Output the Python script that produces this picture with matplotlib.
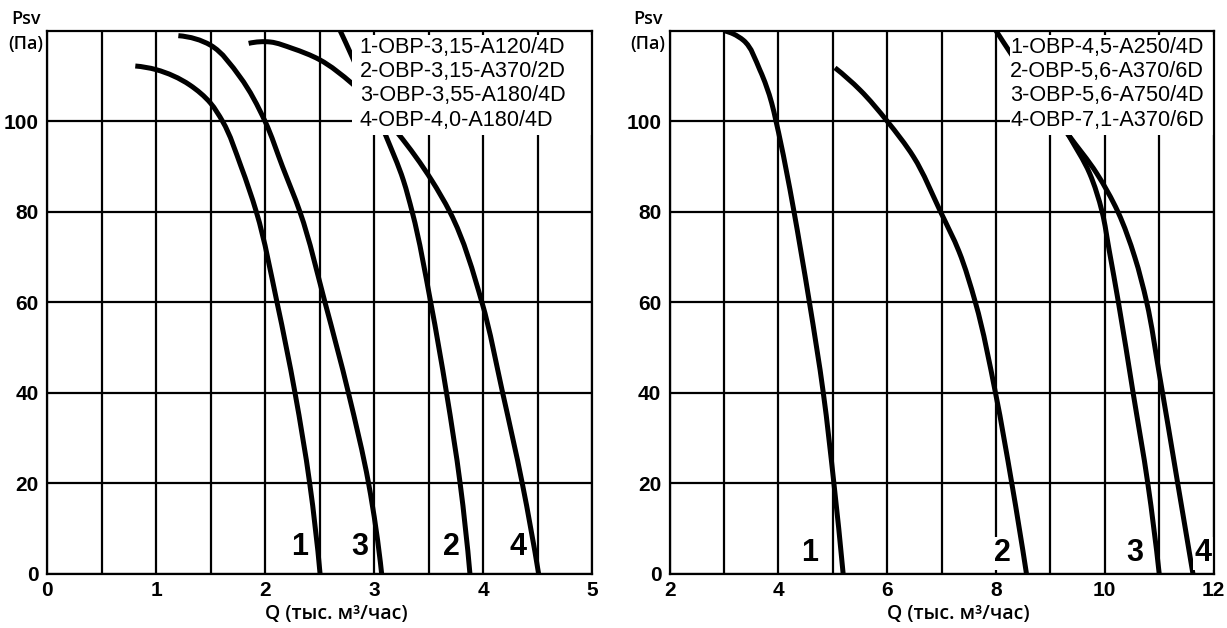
import matplotlib
matplotlib.use("Agg")
import numpy as np
import matplotlib.pyplot as plt
from matplotlib.patches import Rectangle, PathPatch
from matplotlib.path import Path
from matplotlib.ticker import MultipleLocator

# ---------------- data ----------------
# Left panel: Q (thousand m3/h) vs Psv (Pa)
left_names = ["1-OBP-3,15-A120/4D", "2-OBP-3,15-A370/2D",
              "3-OBP-3,55-A180/4D", "4-OBP-4,0-A180/4D"]
left_c1_q = [0.81, 1.00, 1.31, 1.50, 1.61, 1.78, 1.92, 2.11, 2.275, 2.41, 2.505]
left_c1_p = [112.2, 111.4, 108.0, 104.0, 100.0, 90.0, 80.0, 60.0, 40.0, 20.0, 0.0]
left_c2_q = [2.68, 2.80, 3.10, 3.27, 3.35, 3.52, 3.665, 3.79, 3.88]
left_c2_p = [120.5, 114.2, 97.3, 86.9, 80.0, 60.0, 40.0, 20.0, 0.0]
left_c3_q = [1.205, 1.50, 1.77, 2.00, 2.16, 2.32, 2.55, 2.765, 2.95, 3.07]
left_c3_p = [118.9, 116.8, 109.8, 100.0, 90.0, 80.0, 60.0, 40.0, 20.0, 0.0]
left_c4_q = [1.85, 2.05, 2.25, 2.50, 2.80, 3.22, 3.53, 3.695, 3.99, 4.18, 4.36, 4.51]
left_c4_p = [117.2, 117.5, 116.1, 113.6, 108.3, 97.3, 86.9, 80.0, 60.0, 40.0, 20.0, 0.0]
left_label_text = ["1", "3", "2", "4"]
left_label_q = [2.32, 2.87, 3.71, 4.32]
left_label_p = [5.8, 5.8, 5.8, 5.8]

# Right panel
right_names = ["1-OBP-4,5-A250/4D", "2-OBP-5,6-A370/6D",
               "3-OBP-5,6-A750/4D", "4-OBP-7,1-A370/6D"]
right_c1_q = [3.00, 3.17, 3.355, 3.66, 3.877, 3.956, 4.287, 4.41, 4.57, 4.825, 5.02, 5.19]
right_c1_p = [120.0, 119.3, 117.9, 111.3, 104.0, 100.0, 80.0, 71.5, 60.0, 40.0, 20.0, 0.0]
right_c2_q = [5.04, 5.50, 6.00, 6.48, 6.98, 7.32, 7.62, 7.99, 8.29, 8.56]
right_c2_p = [111.8, 106.9, 100.0, 92.2, 80.0, 71.2, 60.0, 40.0, 20.0, 0.0]
right_c3_q = [8.90, 9.33, 9.72, 9.95, 10.08, 10.25, 10.52, 10.79, 11.00]
right_c3_p = [106.0, 97.0, 88.5, 80.0, 71.5, 60.0, 40.0, 20.0, 0.0]
right_c4_q = [8.00, 8.26, 9.33, 9.85, 10.24, 10.55, 10.77, 11.00, 11.34, 11.62]
right_c4_p = [120.0, 115.2, 97.0, 88.5, 80.0, 70.0, 60.0, 44.3, 20.0, 0.0]
right_label_text = ["1", "2", "3", "4"]
right_label_q = [4.57, 8.12, 10.56, 11.81]
right_label_p = [4.5, 4.5, 4.5, 4.5]

y_ticks = [0, 20, 40, 60, 80, 100]
left_xticks = [0, 1, 2, 3, 4, 5]
right_xticks = [2, 4, 6, 8, 10, 12]

# ---------------- styling ----------------
TICKF = ["Liberation Sans", "DejaVu Sans"]
ARIAL = ["Liberation Sans", "DejaVu Sans"]
LABELF = ["Open Sans", "Noto Sans", "DejaVu Sans"]

W, H = 1227, 628
fig = plt.figure(figsize=(W / 100, H / 100), dpi=100)
fig.patch.set_facecolor("white")

ax_bottom = (H - 573.7) / H
ax_height = 543.0 / H
axL = fig.add_axes([47 / W, ax_bottom, 545 / W, ax_height])
axR = fig.add_axes([669.6 / W, ax_bottom, 544 / W, ax_height])


def setup(ax, xlim, xticks, minor, box):
    ax.set_xlim(*xlim)
    ax.set_ylim(0, 120)
    ax.set_xticks(xticks)
    ax.xaxis.set_minor_locator(MultipleLocator(minor))
    ax.set_yticks(y_ticks)
    ax.set_axisbelow(True)
    ax.grid(True, which="both", axis="x", color="black", lw=1.6)
    ax.grid(True, which="major", axis="y", color="black", lw=1.6)
    ax.tick_params(which="both", length=0)
    ax.tick_params(axis="x", pad=5)
    ax.tick_params(axis="y", pad=6)
    for lab in ax.get_xticklabels() + ax.get_yticklabels():
        lab.set_fontfamily(TICKF)
        lab.set_fontweight("bold")
        lab.set_fontsize(15)
    for sp in ax.spines.values():
        sp.set_linewidth(1.6)
        sp.set_zorder(5)
    ax.set_xlabel("Q (тыс. м³/час)", fontsize=14, family=LABELF,
                  fontweight="semibold", labelpad=1)
    ax.xaxis.set_label_coords(0.53, -0.055)
    x0, x1, y0, y1 = box
    ax.add_patch(Rectangle((x0, y0), x1 - x0, y1 - y0, facecolor="white",
                           edgecolor="none", zorder=3))


def smooth_curve(ax, q, p, xspan):
    # smooth Bezier path (Bessel tangents) through the read points
    sx = 545.0 / xspan
    sy = 543.0 / 120.0
    P = np.column_stack([np.asarray(q, float) * sx, np.asarray(p, float) * sy])
    n = len(P)
    D = np.diff(P, axis=0)
    L = np.hypot(D[:, 0], D[:, 1])
    U = D / L[:, None]
    M = np.zeros_like(P)
    for i in range(1, n - 1):
        d1, d2 = L[i - 1], L[i]
        M[i] = (d2 * U[i - 1] + d1 * U[i]) / (d1 + d2)
    if n > 2:
        M[0] = 2 * U[0] - M[1]
        M[-1] = 2 * U[-1] - M[-2]
    else:
        M[0] = U[0]
        M[-1] = U[-1]
    verts = [P[0]]
    codes = [Path.MOVETO]
    for i in range(n - 1):
        verts += [P[i] + M[i] * L[i] / 3, P[i + 1] - M[i + 1] * L[i] / 3, P[i + 1]]
        codes += [Path.CURVE4] * 3
    verts = np.array(verts)
    verts[:, 0] /= sx
    verts[:, 1] /= sy
    ax.add_patch(PathPatch(Path(verts, codes), fill=False, edgecolor="black",
                           lw=3.6, zorder=2, capstyle="butt", joinstyle="round"))


def draw_panel(ax, curves, names, text_x, xspan, lab_txt, lab_q, lab_p):
    for q, p in curves:
        smooth_curve(ax, q, p, xspan)
    for i, name in enumerate(names):
        ax.text(text_x, 116.3 - 5.35 * i, name, fontsize=15.6, family=ARIAL,
                ha="left", va="center", zorder=4)
    for t, q, p in zip(lab_txt, lab_q, lab_p):
        ax.text(q, p, t, fontsize=22, family=TICKF, fontweight="bold",
                ha="center", va="center", zorder=4,
                bbox=dict(boxstyle="square,pad=0.05", fc="white", ec="none"))


setup(axL, (0, 5), left_xticks, 0.5, (2.80, 5.0, 97.0, 119.0))
setup(axR, (2, 12), right_xticks, 1, (8.26, 12.0, 96.9, 119.0))

draw_panel(axL, [(left_c1_q, left_c1_p), (left_c2_q, left_c2_p),
                 (left_c3_q, left_c3_p), (left_c4_q, left_c4_p)],
           left_names, 2.87, 5.0, left_label_text, left_label_q, left_label_p)
draw_panel(axR, [(right_c1_q, right_c1_p), (right_c2_q, right_c2_p),
                 (right_c3_q, right_c3_p), (right_c4_q, right_c4_p)],
           right_names, 8.26, 10.0, right_label_text, right_label_q, right_label_p)

# Psv / (Па) headings
for xpix in (26, 648):
    fig.text(xpix / W, 1 - 19 / H, "Psv", fontsize=13, family=LABELF,
             fontweight="semibold", ha="center", va="center")
    fig.text(xpix / W, 1 - 44 / H, "(Па)", fontsize=13, family=LABELF,
             fontweight="semibold", ha="center", va="center")

fig.savefig("out.png", dpi=100, facecolor="white")
